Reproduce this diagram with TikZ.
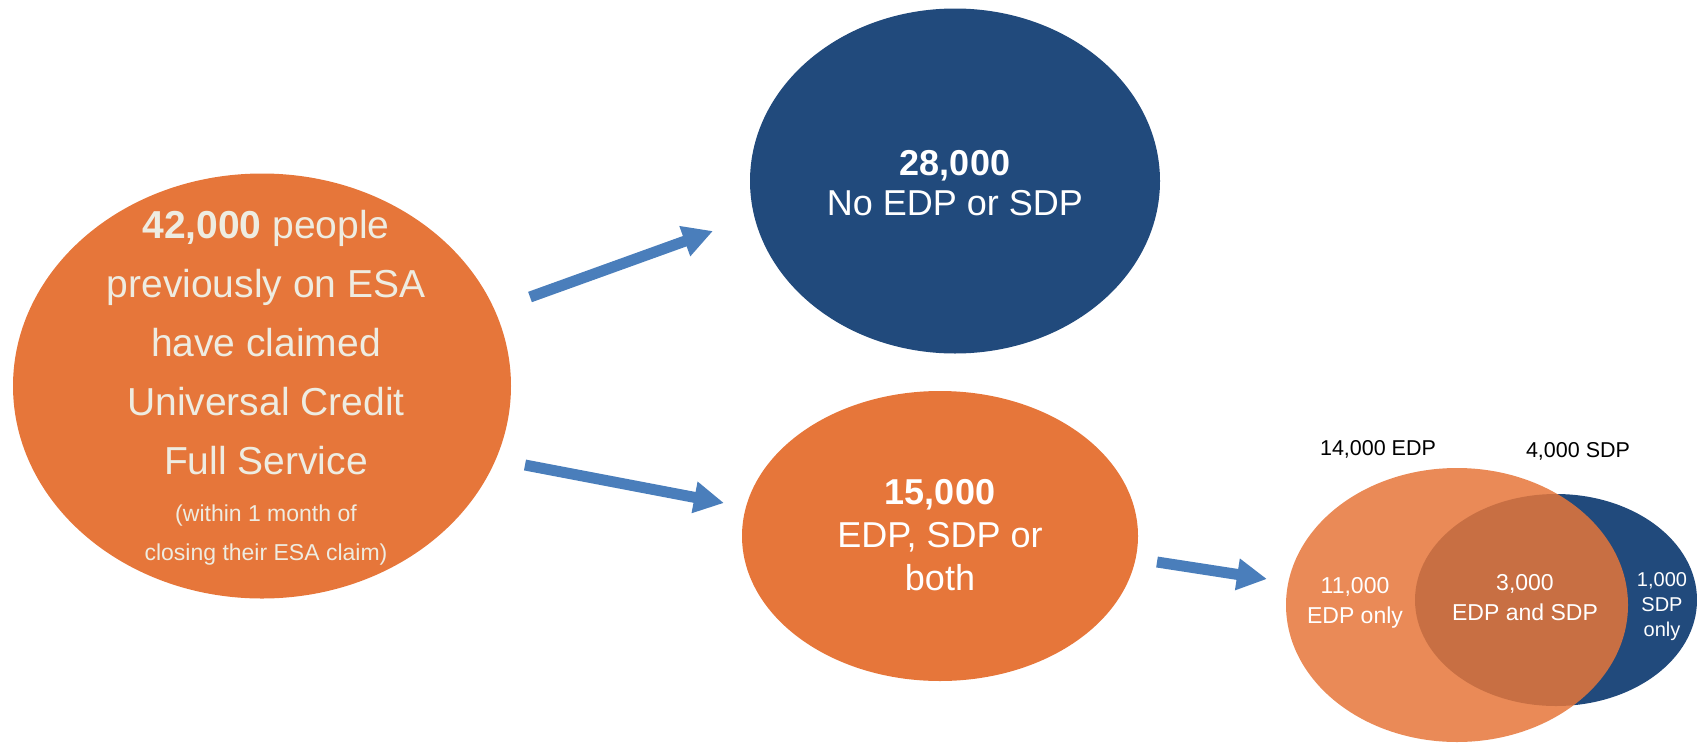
\documentclass[tikz,border=0pt]{standalone}
\usepackage{fontspec}
\setmainfont{Liberation Sans}
\usetikzlibrary{shapes.geometric,arrows.meta}
\definecolor{esaorange}{HTML}{E6763A}
\definecolor{esablue}{HTML}{214A7C}
\definecolor{arrowblue}{HTML}{4A7EBB}
\definecolor{creamtext}{HTML}{EEECE1}
\tikzset{
  oval/.style={ellipse,draw=none,inner sep=0pt},
  ovaltext/.style={align=center,text=white,inner sep=0pt},
  flow/.style={arrowblue,line width=11pt,-{Triangle[width=30pt,length=30pt]}}
}

\begin{document}
\begin{tikzpicture}[x=1pt,y=-1pt]
\useasboundingbox (0,0) rectangle (1697,742);
\node[oval,fill=esaorange,minimum width=498pt,minimum height=425pt] (esa) at (262,386) {};
\node[ovaltext,text=creamtext,font=\fontsize{39}{59}\selectfont] (esamain) at (266,343) {\textbf{42,000} people\\previously on ESA\\have claimed\\Universal Credit\\Full Service};
\node[ovaltext,text=creamtext,font=\fontsize{23}{39}\selectfont] (esanote) at (266,535) {(within 1 month of\\closing their ESA claim)};
\node[oval,fill=esablue,minimum width=410pt,minimum height=345pt] (none) at (955,181) {};
\node[ovaltext,font=\fontsize{36}{40}\selectfont] (nonetext) at (955,183) {\textbf{28,000}\\No EDP or SDP};
\node[oval,fill=esaorange,minimum width=396pt,minimum height=290pt] (some) at (940,536) {};
\node[ovaltext,font=\fontsize{36}{43}\selectfont] (sometext) at (940,535) {\textbf{15,000}\\EDP, SDP or\\both};
\node[oval,fill=esablue,minimum width=282pt,minimum height=212pt] (sdp) at (1556,600) {};
\node[oval,fill=esaorange,fill opacity=0.85,minimum width=342pt,minimum height=274pt] (edp) at (1457,605) {};
\node[font=\fontsize{21.5}{26}\selectfont] (edplabel) at (1378,449) {14,000 EDP};
\node[font=\fontsize{21.5}{26}\selectfont] (sdplabel) at (1578,451) {4,000 SDP};
\node[ovaltext,font=\fontsize{23}{30}\selectfont] (edponly) at (1355,603) {11,000\\EDP only};
\node[ovaltext,font=\fontsize{23}{30}\selectfont] (edpsdp) at (1525,598) {3,000\\EDP and SDP};
\node[ovaltext,font=\fontsize{20}{25}\selectfont] (sdponly) at (1662,607) {1,000\\SDP\\only};
\coordinate (up0) at (530,297);
\coordinate (up1) at (713,231);
\coordinate (down0) at (525,465);
\coordinate (down1) at (724,503);
\coordinate (venn0) at (1157,562);
\coordinate (venn1) at (1267,579);
\draw[flow] (up0) -- (up1);
\draw[flow] (down0) -- (down1);
\draw[flow] (venn0) -- (venn1);
\end{tikzpicture}
\end{document}
